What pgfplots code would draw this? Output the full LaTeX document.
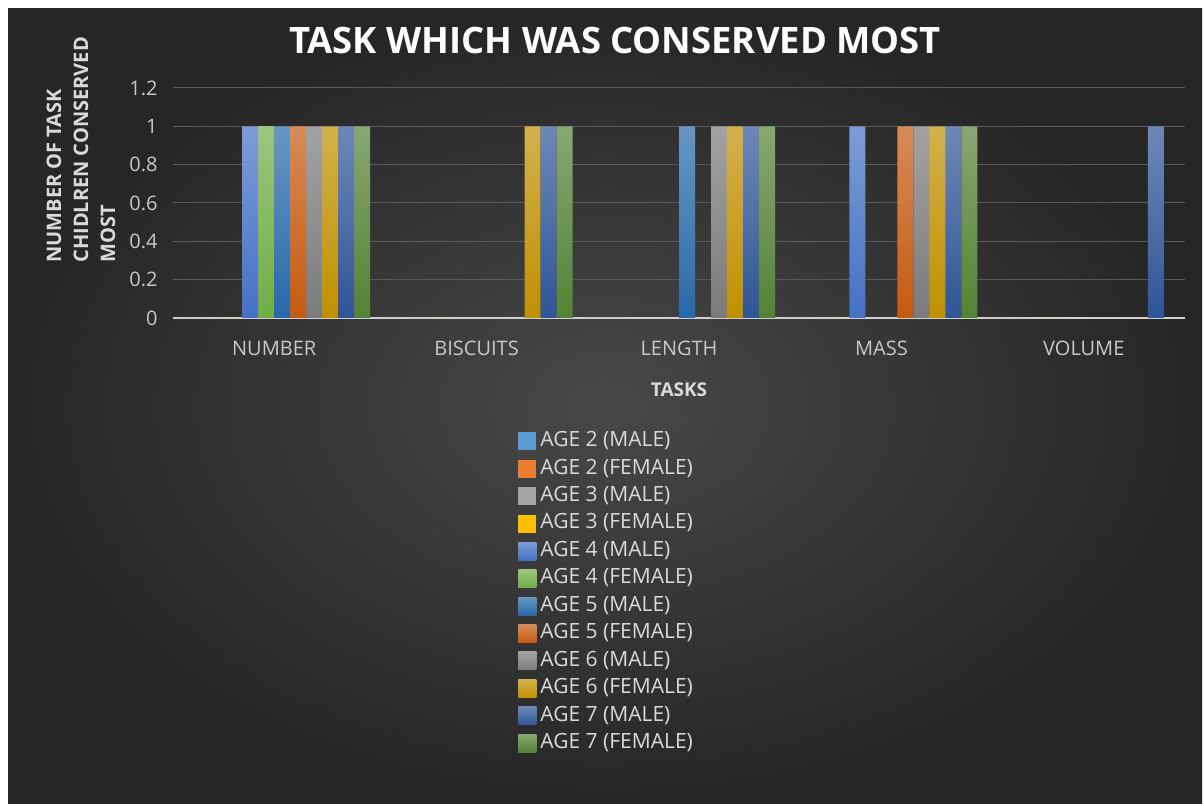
\documentclass[border=0pt]{standalone}
\usepackage{fontspec}
\setmainfont{Open Sans}
\usepackage{pgfplots}
\pgfplotsset{compat=1.18}
\definecolor{bgin}{HTML}{484848}
\definecolor{bgout}{HTML}{262626}
\definecolor{gridc}{HTML}{5A5A5A}
\definecolor{axisc}{HTML}{D0D0D0}
\definecolor{tickc}{HTML}{C8C8C8}
\definecolor{labc}{HTML}{DADADA}
\definecolor{c1}{HTML}{5B9BD5}
\definecolor{c2}{HTML}{ED7D31}
\definecolor{c3}{HTML}{A5A5A5}
\definecolor{c4}{HTML}{FFC000}
\definecolor{c5}{HTML}{4472C4}
\definecolor{c6}{HTML}{70AD47}
\definecolor{c7}{HTML}{2869A8}
\definecolor{c8}{HTML}{C55A11}
\definecolor{c9}{HTML}{7B7B7B}
\definecolor{c10}{HTML}{BF9000}
\definecolor{c11}{HTML}{2F5597}
\definecolor{c12}{HTML}{548235}
\pgfplotsset{
  layers/mylayers/.define layer set={axis background,axis grid,main,axis ticks,axis lines,axis tick labels,axis descriptions,axis foreground}{},
  sb/.style={draw=none, top color=#1!70!white, bottom color=#1, restrict y to domain=0.5:2,
    legend image code/.code={\fill[fill=#1] (0pt,-4.5pt) rectangle (9pt,4.5pt);}},
  fb/.style={draw=none, fill=#1,
    legend image code/.code={\fill[fill=#1] (0pt,-4.5pt) rectangle (9pt,4.5pt);}},
}
\begin{document}
\begin{tikzpicture}
\fill[white] (0pt,0pt) rectangle (602pt,401.5pt);
\shade[inner color=bgin, outer color=bgout] (4pt,0pt) rectangle (601pt,397pt);
\begin{axis}[
  set layers=mylayers,
  at={(86.5pt,242.5pt)}, anchor=south west,
  scale only axis, width=506pt, height=115pt,
  ybar=0pt, bar width=8pt,
  xmin=-0.5, xmax=4.5, ymin=0, ymax=1.2,
  xtick={0,1,2,3,4},
  xticklabels={NUMBER,BISCUITS,LENGTH,MASS,VOLUME},
  ytick={0,0.2,0.4,0.6,0.8,1,1.2},
  major tick length=0pt,
  axis x line*=bottom, axis y line*=left,
  x axis line style={-, draw=axisc, line width=1pt},
  y axis line style={draw=none},
  ymajorgrids, grid style={draw=gridc, line width=0.5pt},
  tick label style={font=\fontsize{10}{12}\selectfont, text=tickc},
  yticklabel style={xshift=-4.2pt},
  xticklabel style={yshift=-8pt},
  /pgf/number format/assume math mode=true,
  xlabel={TASKS},
  xlabel style={at={(axis description cs:0.5,0)}, anchor=center, yshift=-36pt,
    font=\bfseries\fontsize{9.5}{11}\selectfont, text=labc},
  ylabel={NUMBER OF TASK\\CHIDLREN CONSERVED\\MOST},
  ylabel style={at={(axis description cs:-0.0909,0.239)}, anchor=west, align=left,
    font=\bfseries\fontsize{10}{13.5}\selectfont, text=labc, inner sep=0pt},
  title={TASK WHICH WAS CONSERVED MOST},
  title style={at={(axis description cs:0.4368,1.1565)}, anchor=center,
    font=\bfseries\fontsize{18.2}{22}\selectfont, text=white},
  legend cell align=left,
  legend style={at={(axis description cs:0.3409,-0.474)}, anchor=north west,
    draw=none, fill=none, text=labc, font=\fontsize{10.5}{12}\selectfont,
    inner sep=0pt, row sep=0pt,
    nodes={inner ysep=1.97pt, inner xsep=2pt, text height=7.6pt, text depth=2.2pt}},
]
\addplot[fb=c1]  coordinates {(0,0) (1,0) (2,0) (3,0) (4,0)};
\addplot[fb=c2]  coordinates {(0,0) (1,0) (2,0) (3,0) (4,0)};
\addplot[fb=c3]  coordinates {(0,0) (1,0) (2,0) (3,0) (4,0)};
\addplot[fb=c4]  coordinates {(0,0) (1,0) (2,0) (3,0) (4,0)};
\addplot[sb=c5]  coordinates {(0,1) (1,0) (2,0) (3,1) (4,0)};
\addplot[sb=c6]  coordinates {(0,1) (1,0) (2,0) (3,0) (4,0)};
\addplot[sb=c7]  coordinates {(0,1) (1,0) (2,1) (3,0) (4,0)};
\addplot[sb=c8]  coordinates {(0,1) (1,0) (2,0) (3,1) (4,0)};
\addplot[sb=c9]  coordinates {(0,1) (1,0) (2,1) (3,1) (4,0)};
\addplot[sb=c10] coordinates {(0,1) (1,1) (2,1) (3,1) (4,0)};
\addplot[sb=c11] coordinates {(0,1) (1,1) (2,1) (3,1) (4,1)};
\addplot[sb=c12] coordinates {(0,1) (1,1) (2,1) (3,1) (4,0)};
\legend{AGE 2 (MALE),AGE 2 (FEMALE),AGE 3 (MALE),AGE 3 (FEMALE),AGE 4 (MALE),AGE 4 (FEMALE),AGE 5 (MALE),AGE 5 (FEMALE),AGE 6 (MALE),AGE 6 (FEMALE),AGE 7 (MALE),AGE 7 (FEMALE)}
\end{axis}
\end{tikzpicture}
\end{document}
